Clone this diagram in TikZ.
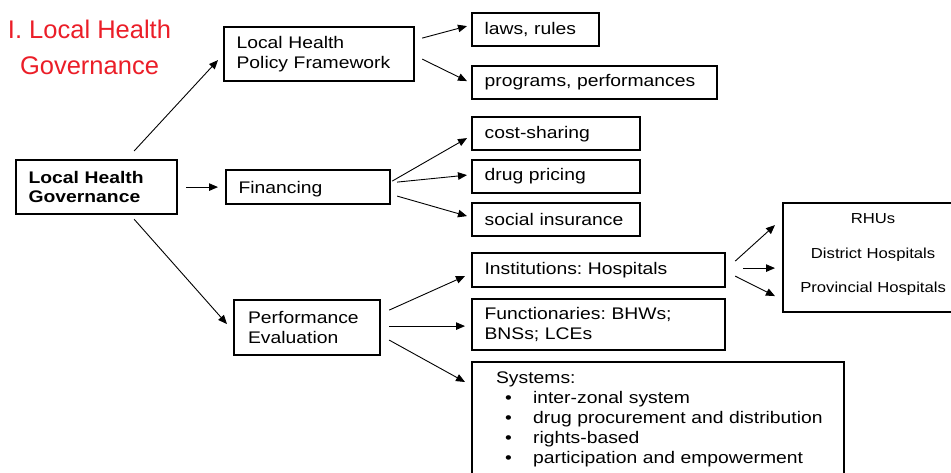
\documentclass[tikz,border=0pt]{standalone}
\usepackage{fontspec}
\setmainfont[FakeStretch=1.15]{Liberation Sans}
\newfontfamily\titlefont{Liberation Sans}
\usetikzlibrary{arrows.meta}
\definecolor{titlered}{RGB}{235,30,40}
\frenchspacing
\begin{document}
\begin{tikzpicture}[x=1pt,y=1pt,
  box/.style={draw, line width=2.2pt, anchor=north west, inner xsep=12.5pt, inner ysep=0pt,
    align=left, font=\fontsize{16.8}{19.5}\selectfont},
  hospbox/.style={draw, line width=2.2pt, anchor=north west, inner xsep=0pt, inner ysep=0pt,
    align=center, font=\fontsize{14.5}{34.5}\selectfont},
  arr/.style={-{Triangle[length=9pt,width=7.5pt]}, line width=0.9pt}]
\useasboundingbox (0,0) rectangle (951,-473);
\clip (0,0) rectangle (951,-473);

\node[font=\titlefont\fontsize{25.5}{36}\selectfont, text=titlered, align=center, anchor=north, inner sep=0pt]
  (title) at (89.5,-20) {I. Local Health\\Governance};

\node[box, text width=136pt, minimum height=54pt, font=\fontsize{16.8}{19.5}\selectfont\bfseries] (lhg) at (15,-159) {Local Health\\Governance};
\node[box, text width=165pt, minimum height=54pt] (lhpf) at (223,-26) {Local Health\\Policy Framework};
\node[box, text width=139pt, minimum height=34pt] (fin) at (225,-169) {\rule{0pt}{16pt}Financing};
\node[box, inner xsep=14pt, text width=118pt, minimum height=55pt] (perf) at (233,-299) {Performance\\Evaluation};

\node[box, text width=102pt, minimum height=33pt] (laws) at (471,-12) {laws, rules};
\node[box, text width=220pt, minimum height=33pt] (prog) at (471,-65) {programs, performances};
\node[box, text width=143pt, minimum height=33pt] (cost) at (471,-116) {\rule{0pt}{14pt}cost-sharing};
\node[box, text width=143pt, minimum height=33pt] (drug) at (471,-159) {drug pricing};
\node[box, text width=143pt, minimum height=33pt] (social) at (471,-202) {social insurance};
\node[box, text width=228pt, minimum height=34pt] (inst) at (471,-252) {Institutions: Hospitals};
\node[box, text width=228pt, minimum height=51pt] (func) at (471,-298) {Functionaries: BHWs;\\BNSs; LCEs};
\node[box, inner xsep=0pt, text width=372pt, font=\fontsize{16.8}{20}\selectfont] (sys) at (471,-361)
  {\hspace*{24pt}\rule{0pt}{21pt}Systems:\\
   \hspace*{24pt}\makebox[37pt][l]{\hspace*{9pt}\textbullet}inter-zonal system\\
   \hspace*{24pt}\makebox[37pt][l]{\hspace*{9pt}\textbullet}drug procurement and distribution\\
   \hspace*{24pt}\makebox[37pt][l]{\hspace*{9pt}\textbullet}rights-based\\
   \hspace*{24pt}\makebox[37pt][l]{\hspace*{9pt}\textbullet}participation and empowerment\rule[-30pt]{0pt}{0pt}};
\node[hospbox, text width=180pt, minimum height=109pt] (hosp) at (782,-202)
  {RHUs\\District Hospitals\\Provincial Hospitals\rule[-9pt]{0pt}{0pt}};

\draw[arr] ([shift={(37.5,8)}]lhg.north) -- ([shift={(-5,-6)}]lhpf.west);
\draw[arr] ([shift={(8,0)}]lhg.east) -- ([shift={(-7,0)}]fin.west);
\draw[arr] ([shift={(37.5,-4)}]lhg.south) -- ([shift={(-6,3.5)}]perf.west);

\draw[arr] ([shift={(7,16)}]lhpf.east) -- ([shift={(-4,3.5)}]laws.west);
\draw[arr] ([shift={(7,-5)}]lhpf.east) -- ([shift={(-4,1.5)}]prog.west);

\draw[arr] ([shift={(1,6)}]fin.east) -- ([shift={(-4,-4.5)}]cost.west);
\draw[arr] ([shift={(6,5)}]fin.east) -- ([shift={(-4,1.5)}]drug.west);
\draw[arr] ([shift={(6,-9)}]fin.east) -- ([shift={(-4,3.5)}]social.west);

\draw[arr] ([shift={(8,17.5)}]perf.east) -- ([shift={(-6,-6)}]inst.west);
\draw[arr] ([shift={(8,1.5)}]perf.east) -- ([shift={(-6,-1.5)}]func.west);
\draw[arr] ([shift={(8,-12.5)}]perf.east) -- ([shift={(-6,-21)}]sys.north west);

\draw[arr] ([shift={(9,9)}]inst.east) -- ([shift={(-7,32.5)}]hosp.west);
\draw[arr] ([shift={(17,2)}]inst.east) -- ([shift={(-7,-10.5)}]hosp.west);
\draw[arr] ([shift={(9,-6)}]inst.east) -- ([shift={(-7,-38.5)}]hosp.west);
\end{tikzpicture}
\end{document}
